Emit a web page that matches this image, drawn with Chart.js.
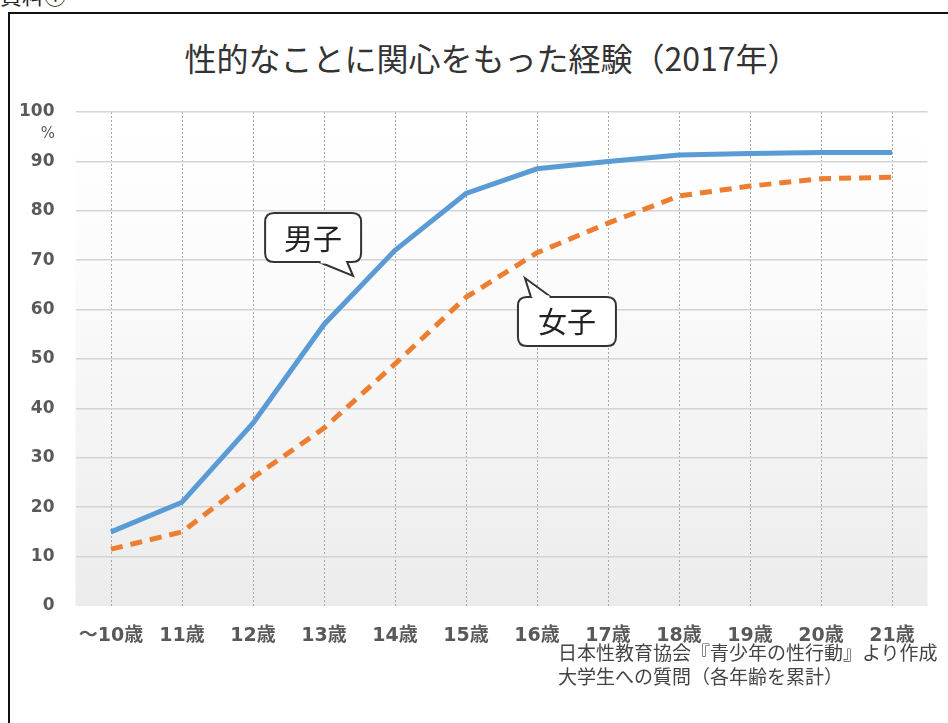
<!DOCTYPE html>
<html lang="ja">
<head>
<meta charset="utf-8">
<script src="https://cdn.jsdelivr.net/npm/chart.js@4"></script>
<style>
  html, body { margin: 0; padding: 0; background: #fff; }
  body { width: 948px; height: 723px; position: relative; overflow: hidden; font-family: "Noto Sans CJK JP", sans-serif; }
  #frame { position: absolute; left: 8px; top: 12px; width: 1000px; height: 800px; border: 2px solid #111; box-sizing: border-box; }
  #shiryo { position: absolute; left: 0; top: -22px; font-size: 22px; color: #222; }
  #title { position: absolute; left: 12px; width: 960px; top: 36px; text-align: center; font-size: 32px; color: #333; line-height: 42px; }
  #source { position: absolute; left: 558px; top: 640px; font-size: 19px; line-height: 24px; color: #444; white-space: nowrap; }
  canvas { position: absolute; left: 0; top: 0; }
</style>
</head>
<body>
<div id="shiryo">資料①</div>
<div id="frame"></div>
<div id="title">性的なことに関心をもった経験（2017年）</div>
<canvas id="chart" width="948" height="723"></canvas>
<div id="source">日本性教育協会『青少年の性行動』より作成<br>大学生への質問（各年齢を累計）</div>
<script>
const ageLabels = ["～10歳", "11歳", "12歳", "13歳", "14歳", "15歳", "16歳", "17歳", "18歳", "19歳", "20歳", "21歳"];
const boysPct = [15, 21, 37, 57, 72, 83.5, 88.5, 90, 91.3, 91.6, 91.8, 91.8];
const girlsPct = [11.5, 15, 26, 36, 49, 62.5, 71.5, 77.5, 83, 85, 86.5, 86.8];
const seriesNames = ["男子", "女子"];

// 吹き出し（データ座標の先端 + ボックスのずれ）
const callouts = [
  { text: "男子", tipIndex: 3.41, tipValue: 66.8, box: { dx: -88, dy: -63, w: 96, h: 49 }, tail: [-34, -6], side: "bottom" },
  { text: "女子", tipIndex: 5.83, tipValue: 66.4, box: { dx: -7, dy: 19, w: 98, h: 49 }, tail: [6, 26], side: "top" }
];

const yFont = { family: '"DejaVu Sans", "Noto Sans CJK JP", sans-serif', size: 17, weight: "bold" };
const xFont = { family: '"DejaVu Sans", "Noto Sans CJK JP", sans-serif', size: 19, weight: "bold" };

const bgPlugin = {
  id: "bgGradient",
  beforeDraw(chart) {
    const { ctx, chartArea: a } = chart;
    const g = ctx.createLinearGradient(0, a.top, 0, a.bottom);
    g.addColorStop(0, "#ffffff");
    g.addColorStop(0.3, "#fcfcfc");
    g.addColorStop(1, "#ececec");
    ctx.save();
    ctx.fillStyle = g;
    ctx.fillRect(a.left, a.top, a.right - a.left, a.bottom - a.top);
    ctx.restore();
  }
};

function roundRect(ctx, x, y, w, h, r) {
  ctx.moveTo(x + r, y);
  ctx.lineTo(x + w - r, y);
  ctx.quadraticCurveTo(x + w, y, x + w, y + r);
  ctx.lineTo(x + w, y + h - r);
  ctx.quadraticCurveTo(x + w, y + h, x + w - r, y + h);
  ctx.lineTo(x + r, y + h);
  ctx.quadraticCurveTo(x, y + h, x, y + h - r);
  ctx.lineTo(x, y + r);
  ctx.quadraticCurveTo(x, y, x + r, y);
}

const calloutPlugin = {
  id: "callouts",
  afterDraw(chart) {
    const { ctx, scales } = chart;
    ctx.save();
    // y軸の「%」
    ctx.fillStyle = "#595959";
    ctx.font = '15px "DejaVu Sans", sans-serif';
    ctx.textAlign = "right";
    ctx.textBaseline = "middle";
    ctx.fillText("%", 55, scales.y.getPixelForValue(100) + 22);

    callouts.forEach(c => {
      const tx = scales.x.getPixelForValue(c.tipIndex);
      const ty = scales.y.getPixelForValue(c.tipValue);
      const bx = tx + c.box.dx, by = ty + c.box.dy, w = c.box.w, h = c.box.h;
      ctx.beginPath();
      roundRect(ctx, bx, by, w, h, 9);
      ctx.fillStyle = "#fff";
      ctx.fill();
      ctx.lineWidth = 2;
      ctx.strokeStyle = "#333";
      ctx.stroke();
      // しっぽ
      const edgeY = c.side === "bottom" ? by + h : by;
      const x1 = tx + c.tail[0], x2 = tx + c.tail[1];
      ctx.beginPath();
      ctx.moveTo(x1, edgeY);
      ctx.lineTo(tx, ty);
      ctx.lineTo(x2, edgeY);
      ctx.fillStyle = "#fff";
      ctx.fill();
      ctx.stroke();
      ctx.beginPath();
      ctx.moveTo(x1 + 1.5, edgeY);
      ctx.lineTo(x2 - 1.5, edgeY);
      ctx.lineWidth = 3;
      ctx.strokeStyle = "#fff";
      ctx.stroke();
      ctx.fillStyle = "#222";
      ctx.font = '29px "Noto Sans CJK JP", sans-serif';
      ctx.textAlign = "center";
      ctx.textBaseline = "middle";
      ctx.fillText(c.text, bx + w / 2, by + h / 2 + 1);
    });
    ctx.restore();
  }
};

new Chart(document.getElementById("chart"), {
  type: "line",
  data: {
    labels: ageLabels,
    datasets: [
      {
        label: seriesNames[0],
        data: boysPct,
        borderColor: "#5b9bd5",
        borderWidth: 5,
        pointRadius: 0,
        tension: 0
      },
      {
        label: seriesNames[1],
        data: girlsPct,
        borderColor: "#ed7d31",
        borderWidth: 5,
        borderDash: [12, 8],
        pointRadius: 0,
        tension: 0
      }
    ]
  },
  options: {
    responsive: false,
    animation: false,
    layout: { padding: { top: 112, right: 20.5, bottom: 57, left: 0 } },
    plugins: { legend: { display: false }, tooltip: { enabled: false } },
    scales: {
      x: {
        offset: true,
        grid: { offset: false, color: "#a6a6a6", lineWidth: 1, drawTicks: false },
        border: { display: false, dash: [2, 2] },
        ticks: { color: "#595959", font: xFont, padding: 19, maxRotation: 0 },
        afterFit(s) { s.height = 60; }
      },
      y: {
        min: 0,
        max: 100,
        ticks: { stepSize: 10, color: "#595959", font: yFont, padding: 21 },
        grid: {
          drawTicks: false,
          color: c => (c.tick && c.tick.value === 0 ? "rgba(0,0,0,0)" : "#d4d4d4"),
          lineWidth: 1.5
        },
        border: { display: false },
        afterFit(s) { s.width = 75.5; }
      }
    }
  },
  plugins: [bgPlugin, calloutPlugin]
});
</script>
</body>
</html>
